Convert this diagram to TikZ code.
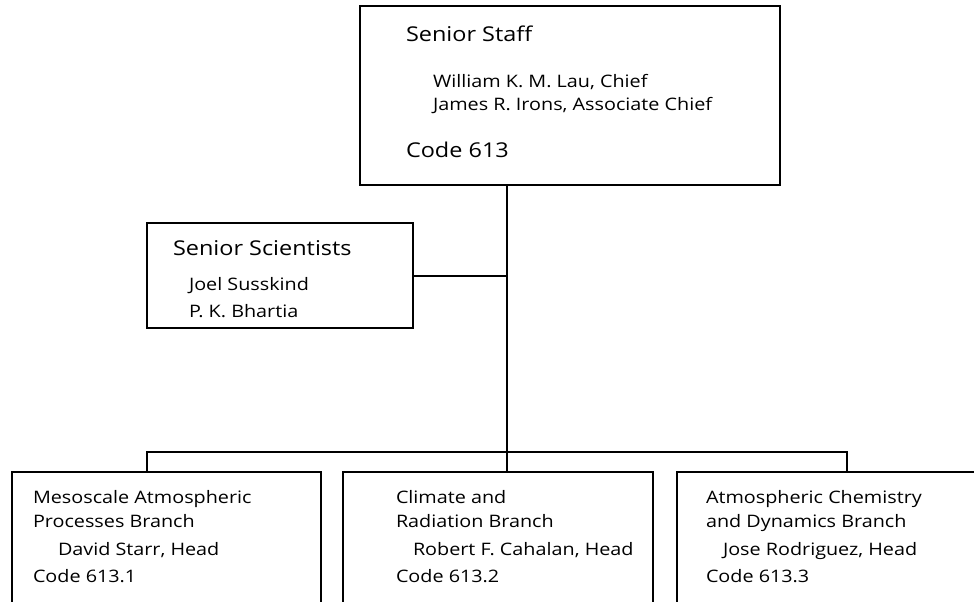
\documentclass[tikz,border=0pt]{standalone}
\usepackage{fontspec}
\setmainfont{Open Sans}[FakeStretch=1.15]
\usepackage{tikz}

\begin{document}
\begin{tikzpicture}[x=1pt, y=-1pt, line width=2pt,
  box/.style={draw, rectangle, outer sep=0pt, inner sep=0pt, anchor=north west},
  head/.style={anchor=base west, inner sep=0pt, font=\fontsize{20.4}{24}\selectfont},
  line/.style={anchor=base west, inner sep=0pt, font=\fontsize{17.2}{20}\selectfont}]
\useasboundingbox (0, 0) rectangle (974, 602);
\clip (0, 0) rectangle (974, 602);
\node[box, minimum width=420pt, minimum height=179pt] (staff) at (360, 6) {};
\node[head] (staffT) at (405, 42) {Senior Staff};
\node[line] (lau) at (432, 87) {William K. M. Lau, Chief};
\node[line] (irons) at (432, 110) {James R. Irons, Associate Chief};
\node[head] (staffC) at (405, 157) {Code 613};
\node[box, minimum width=266pt, minimum height=105pt] (sci) at (147, 223) {};
\node[head] (sciT) at (172, 255) {Senior Scientists};
\node[line] (susskind) at (188, 290) {Joel Susskind};
\node[line] (bhartia) at (188, 317) {P. K. Bhartia};
\node[box, minimum width=309pt, minimum height=180pt] (meso) at (12, 472) {};
\node[line] (mesoA) at (32, 503) {Mesoscale Atmospheric};
\node[line] (mesoB) at (32, 527) {Processes Branch};
\node[line] (starr) at (57, 555) {David Starr, Head};
\node[line] (mesoC) at (32, 582) {Code 613.1};
\node[box, minimum width=310pt, minimum height=180pt] (clim) at (343, 472) {};
\node[line] (climA) at (395, 503) {Climate and};
\node[line] (climB) at (395, 527) {Radiation Branch};
\node[line] (cahalan) at (412, 555) {Robert F. Cahalan, Head};
\node[line] (climC) at (395, 582) {Code 613.2};
\node[box, minimum width=340pt, minimum height=180pt] (chem) at (677, 472) {};
\node[line] (chemA) at (705, 503) {Atmospheric Chemistry};
\node[line] (chemB) at (705, 527) {and Dynamics Branch};
\node[line] (rodriguez) at (722, 555) {Jose Rodriguez, Head};
\node[line] (chemC) at (705, 582) {Code 613.3};
\coordinate (trunk) at (507, 452);
\coordinate (busL) at (147, 452);
\coordinate (busR) at (847, 452);
\draw (staff.south -| trunk) -- (clim.north -| trunk);
\draw (sci.east) -- (sci.east -| trunk);
\draw (meso.north -| busL) -- (busL) -- (busR) -- (chem.north -| busR);
\end{tikzpicture}
\end{document}
